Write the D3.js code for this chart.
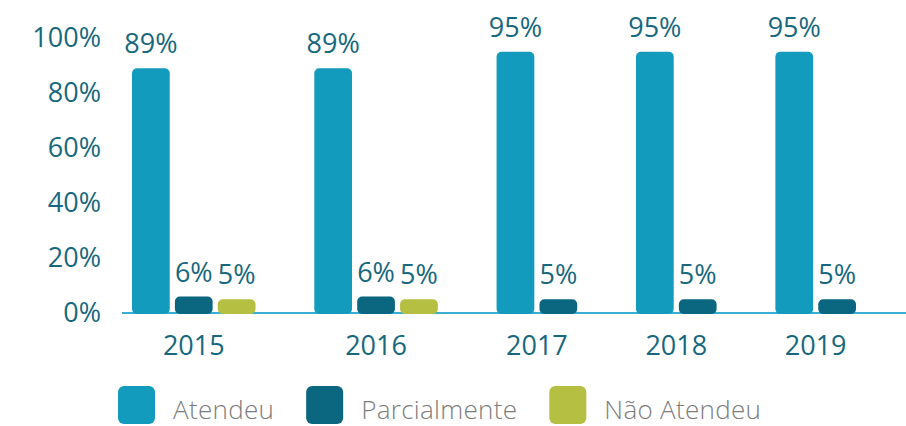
<!DOCTYPE html>
<html>
<head>
<meta charset="utf-8">
<script src="https://cdn.jsdelivr.net/npm/d3@7"></script>
<style>
body { margin: 0; background: #fff; }
svg { display: block; font-family: "Open Sans", sans-serif; }
</style>
</head>
<body>
<svg id="chart"></svg>
<script>
// Chart data
const years = ["2015", "2016", "2017", "2018", "2019"];
const categories = ["Atendeu", "Parcialmente", "Não Atendeu"];
const atendeu = [89, 89, 95, 95, 95];
const parcialmente = [6, 6, 5, 5, 5];
const naoAtendeu = [5, 5, 0, 0, 0];
const yTicks = [0, 20, 40, 60, 80, 100];

const colors = ["#139bbd", "#0b677f", "#b5bf41"];
const textColor = "#17687e";

const width = 906, height = 426;
const svg = d3.select("#chart").attr("width", width).attr("height", height);

// Build one entry per visible bar; a category with no value gets no slot
const series = [atendeu, parcialmente, naoAtendeu];
const groupGap = 1.25;   // extra space between years, in bar slots
const barFrac = 0.88;    // bar width as a share of one slot
let slot = 0;
const bars = [];
const groups = years.map((year, i) => {
    const start = slot + i * groupGap;
    let n = 0;
    series.forEach((vals, c) => {
        if (vals[i] > 0) {
            bars.push({ year, cat: categories[c], value: vals[i], u: slot + i * groupGap });
            slot++;
            n++;
        }
    });
    return { year, start, end: start + (n - 1) + barFrac };
});
const lastUnit = d3.max(bars, d => d.u) + barFrac;

// Scales
const x = d3.scaleLinear().domain([0, lastUnit]).range([132, 856]);
const y = d3.scaleLinear().domain([0, 100]).range([313, 38]);
const color = d3.scaleOrdinal().domain(categories).range(colors);
const barWidth = x(barFrac) - x(0);

// Baseline
svg.append("line")
    .attr("x1", 122)
    .attr("x2", width)
    .attr("y1", y(0))
    .attr("y2", y(0))
    .attr("stroke", "#3aaed0")
    .attr("stroke-width", 2);

// Y axis labels
svg.append("g")
    .attr("transform", "translate(101,0)")
    .call(d3.axisLeft(y).tickValues(yTicks).tickSize(0).tickPadding(0).tickFormat(d => d + "%"))
    .call(g => g.select(".domain").remove())
    .attr("font-family", null)
    .attr("font-size", 27)
    .attr("color", textColor);

// Bars
svg.append("g")
    .selectAll("rect")
    .data(bars)
    .join("rect")
    .attr("x", d => x(d.u))
    .attr("y", d => y(d.value))
    .attr("width", barWidth)
    .attr("height", d => y(0) - y(d.value) + 1)
    .attr("rx", 5)
    .attr("fill", d => color(d.cat));

// Value labels
svg.append("g")
    .selectAll("text")
    .data(bars)
    .join("text")
    .attr("x", d => x(d.u) + barWidth / 2)
    .attr("y", d => y(d.value) - 15)
    .attr("text-anchor", "middle")
    .attr("font-size", 27)
    .attr("fill", textColor)
    .text(d => d.value + "%");

// Year labels
svg.append("g")
    .selectAll("text")
    .data(groups)
    .join("text")
    .attr("x", d => (x(d.start) + x(d.end)) / 2)
    .attr("y", 355)
    .attr("text-anchor", "middle")
    .attr("font-size", 27)
    .attr("fill", textColor)
    .text(d => d.year);

// Legend
const legend = svg.append("g");
let lx = 118;
categories.forEach(cat => {
    legend.append("rect")
        .attr("x", lx)
        .attr("y", 386)
        .attr("width", 37)
        .attr("height", 38)
        .attr("rx", 6)
        .attr("fill", color(cat));
    const t = legend.append("text")
        .attr("x", lx + 37 + 18)
        .attr("y", 419)
        .attr("font-size", 26)
        .attr("font-weight", 300)
        .attr("letter-spacing", 0.3)
        .attr("fill", "#7d7d7d")
        .text(cat);
    lx += 37 + 18 + t.node().getComputedTextLength() + 32;
});
</script>
</body>
</html>
